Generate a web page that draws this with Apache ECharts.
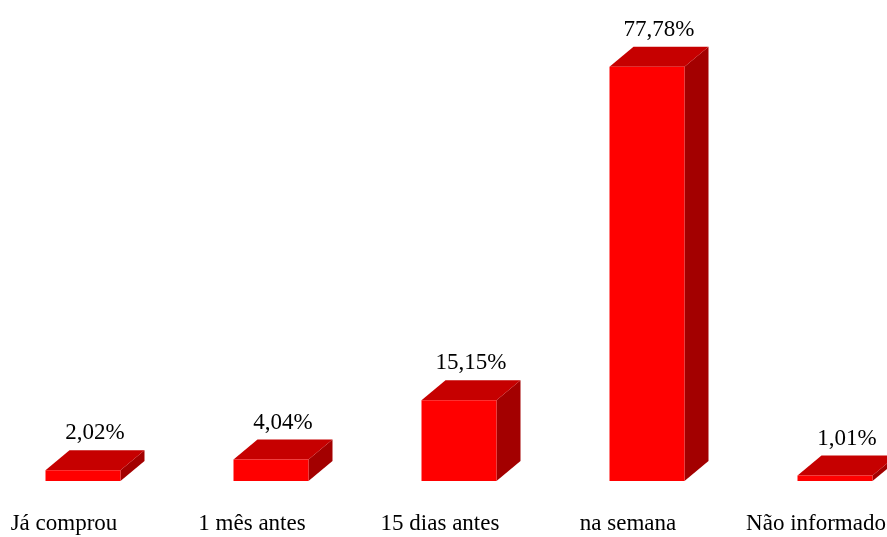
<!DOCTYPE html>
<html>
<head>
<meta charset="utf-8">
<script src="https://cdn.jsdelivr.net/npm/echarts@6/dist/echarts.min.js"></script>
<style>
  html, body { margin: 0; padding: 0; background: #fff; }
  #chart { width: 887px; height: 537px; }
</style>
</head>
<body>
<div id="chart"></div>
<script>
// dados do gráfico
const categories = ['Já comprou', '1 mês antes', '15 dias antes', 'na semana', 'Não informado'];
const percentValues = [2.02, 4.04, 15.15, 77.78, 1.01];

const barWidth = 75;
const barShift = 19;   // barras deslocadas à direita do rótulo
const depthX = 24;
const depthY = 20;
const font = 'Liberation Serif, Times New Roman, serif';

function fmt(v) {
  return v.toFixed(2).replace('.', ',') + '%';
}

function renderBar(params, api) {
  const idx = api.value(0);
  const val = api.value(1);
  const top = api.coord([idx, val]);
  const base = api.coord([idx, 0]);
  const x0 = top[0] + barShift - barWidth / 2;
  const x1 = x0 + barWidth;
  const yTop = top[1];
  const yBase = base[1];
  return {
    type: 'group',
    children: [
      {
        type: 'polygon',
        shape: { points: [[x1, yBase], [x1 + depthX, yBase - depthY], [x1 + depthX, yTop - depthY], [x1, yTop]] },
        style: { fill: '#a30000' }
      },
      {
        type: 'polygon',
        shape: { points: [[x0, yTop], [x0 + depthX, yTop - depthY], [x1 + depthX, yTop - depthY], [x1, yTop]] },
        style: { fill: '#c60000' }
      },
      {
        type: 'rect',
        shape: { x: x0, y: yTop, width: barWidth, height: yBase - yTop },
        style: { fill: '#ff0000' }
      },
      {
        type: 'text',
        x: (x0 + x1) / 2 + 12,
        y: yTop - depthY - 17,
        style: {
          text: fmt(val),
          fill: '#000',
          font: '23px ' + font,
          textAlign: 'center',
          textVerticalAlign: 'middle'
        }
      }
    ]
  };
}

const chart = echarts.init(document.getElementById('chart'));
chart.setOption({
  backgroundColor: '#fff',
  animation: false,
  grid: { left: -30, right: -23, top: 55, bottom: 56, outerBoundsMode: 'none', containLabel: false },
  xAxis: {
    type: 'category',
    data: categories,
    axisLine: { show: false },
    axisTick: { show: false },
    axisLabel: {
      interval: 0,
      margin: 31,
      color: '#000',
      fontSize: 23,
      fontFamily: font
    }
  },
  yAxis: {
    type: 'value',
    min: 0,
    max: 80,
    show: false
  },
  series: [{
    type: 'custom',
    renderItem: renderBar,
    clip: false,
    data: percentValues.map((v, i) => [i, v])
  }]
});
</script>
</body>
</html>
